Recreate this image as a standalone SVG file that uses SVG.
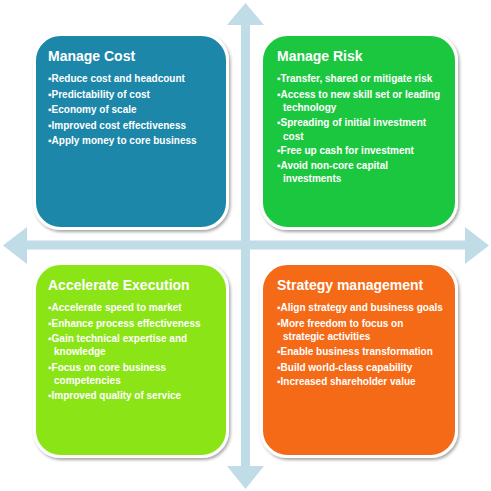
<svg xmlns="http://www.w3.org/2000/svg" width="491" height="491" viewBox="0 0 491 491">
<defs>
<filter id="sh" x="-10%" y="-10%" width="125%" height="125%">
<feDropShadow dx="1.5" dy="2" stdDeviation="1.5" flood-color="#000" flood-opacity="0.35"/>
</filter>
</defs>
<style>
.box{stroke:#fff;stroke-width:3;filter:url(#sh)}
.t{font-family:"Liberation Sans",Arial,sans-serif;font-weight:bold;font-size:14px;fill:#fff}
.b{font-family:"Liberation Sans",Arial,sans-serif;font-weight:bold;font-size:10px;fill:#fff}
.ax{fill:#BFDCE7}
</style>
<rect width="491" height="491" fill="#fff"/>
<g id="connectors">
<path class="ax" d="M241,25 L227,25 L245.5,3 L264,25 L250,25 L250,240.5 L465,240.5 L465,227 L489,245.5 L465,264 L465,249.5 L250,249.5 L250,466 L264,466 L245.5,489 L227,466 L241,466 L241,249.5 L27,249.5 L27,264 L3,245.5 L27,227 L27,240.5 L241,240.5 Z"/>
</g>
<g id="manage-cost">
<rect class="box" x="34.500" y="34.500" width="193" height="194" rx="26" fill="#1A87A9"/>
<text class="t" x="48" y="61">Manage Cost</text>
<text class="b" x="48" y="82">▪Reduce cost and headcount</text>
<text class="b" x="48" y="98">▪Predictability of cost</text>
<text class="b" x="48" y="113">▪Economy of scale</text>
<text class="b" x="48" y="129">▪Improved cost effectiveness</text>
<text class="b" x="48" y="144">▪Apply money to core business</text>
</g>
<g id="manage-risk">
<rect class="box" x="261.500" y="34.500" width="195" height="194" rx="26" fill="#1BC73F"/>
<text class="t" x="277" y="61">Manage Risk</text>
<text class="b" x="277" y="82">▪Transfer, shared or mitigate risk</text>
<text class="b" x="277" y="98">▪Access to new skill set or leading</text>
<text class="b" x="283" y="111">technology</text>
<text class="b" x="277" y="126">▪Spreading of initial investment</text>
<text class="b" x="283" y="140">cost</text>
<text class="b" x="277" y="154">▪Free up cash for investment</text>
<text class="b" x="277" y="169">▪Avoid non-core capital</text>
<text class="b" x="283" y="182">investments</text>
</g>
<g id="accelerate-execution">
<rect class="box" x="34.500" y="263.500" width="193" height="193" rx="26" fill="#8BE416"/>
<text class="t" x="48" y="290">Accelerate Execution</text>
<text class="b" x="48" y="311">▪Accelerate speed to market</text>
<text class="b" x="48" y="327">▪Enhance process effectiveness</text>
<text class="b" x="48" y="342">▪Gain technical expertise and</text>
<text class="b" x="54" y="355">knowledge</text>
<text class="b" x="48" y="371">▪Focus on core business</text>
<text class="b" x="54" y="384">competencies</text>
<text class="b" x="48" y="399">▪Improved quality of service</text>
</g>
<g id="strategy-management">
<rect class="box" x="261.500" y="263.500" width="195" height="193" rx="26" fill="#F56A17"/>
<text class="t" x="277" y="290">Strategy management</text>
<text class="b" x="277" y="311">▪Align strategy and business goals</text>
<text class="b" x="277" y="327">▪More freedom to focus on</text>
<text class="b" x="283" y="340">strategic activities</text>
<text class="b" x="277" y="355">▪Enable business transformation</text>
<text class="b" x="277" y="371">▪Build world-class capability</text>
<text class="b" x="277" y="385">▪Increased shareholder value</text>
</g>
</svg>
